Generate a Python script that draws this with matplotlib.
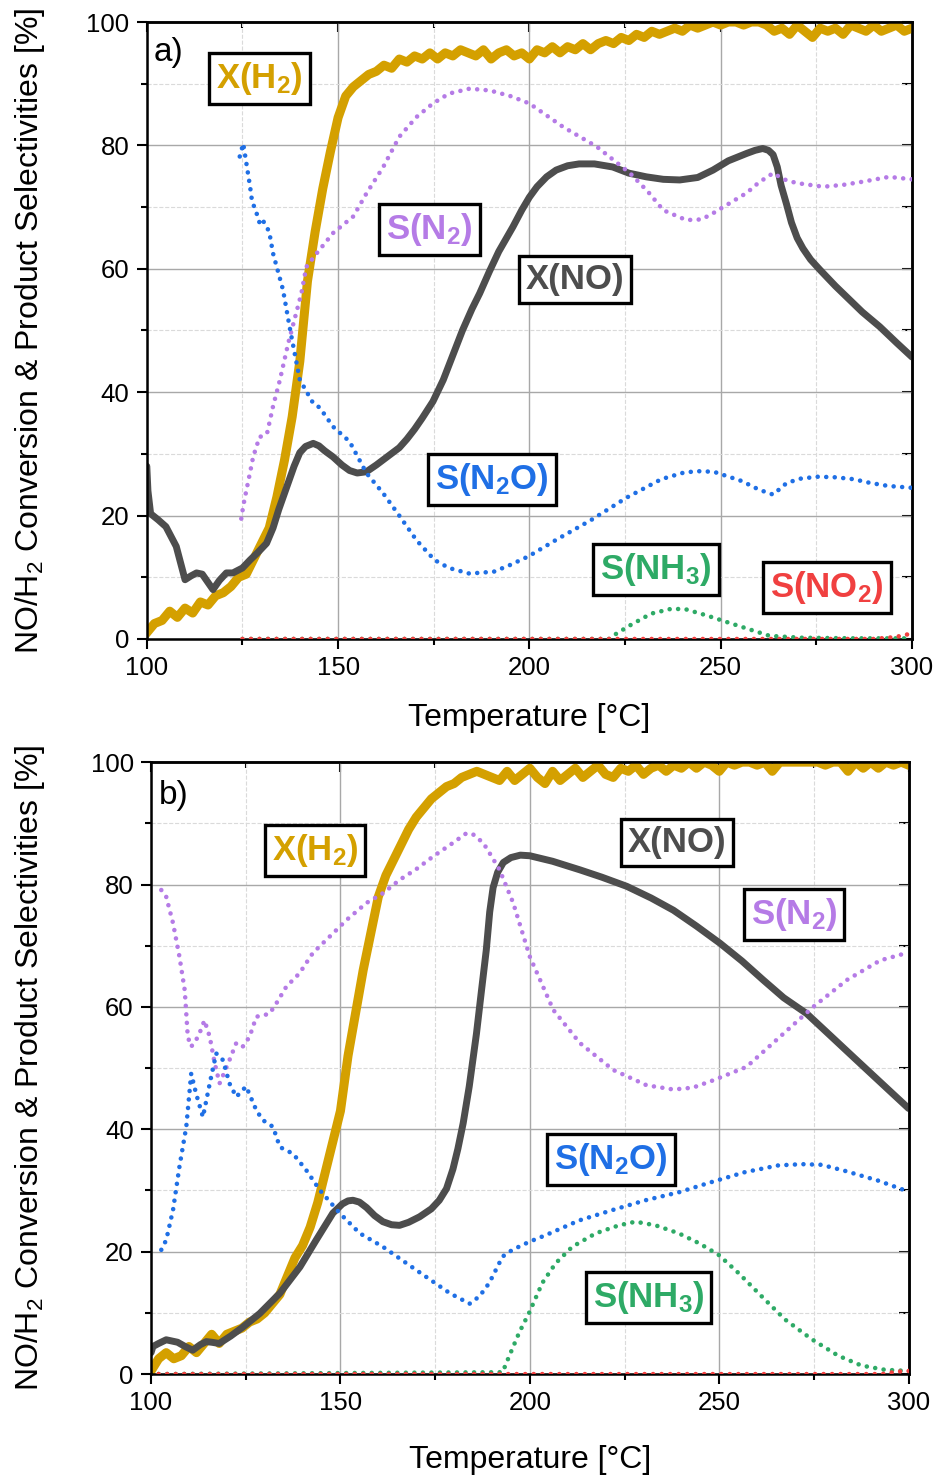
import matplotlib
matplotlib.use("Agg")
import matplotlib.pyplot as plt
from matplotlib.ticker import MultipleLocator

plt.rcParams['font.family'] = ['Liberation Sans', 'DejaVu Sans']
plt.rcParams['mathtext.fontset'] = 'custom'
plt.rcParams['mathtext.rm'] = 'Liberation Sans'
plt.rcParams['mathtext.bf'] = 'Liberation Sans:bold'
plt.rcParams['mathtext.it'] = 'Liberation Sans:italic'

C_H2 = '#D4A000'
C_NO = '#4D4D4D'
C_N2 = '#B57BE6'
C_N2O = '#1F6FE5'
C_NH3 = '#2EAA66'
C_NO2 = '#F04040'

# ---------------- panel a data ----------------
a_h2_T = list(range(100, 301, 2))
a_h2 = [1.0, 2.5, 3.0, 4.5, 3.5, 5.0, 4.2, 6.0, 5.5, 7.0,
        7.5, 8.5, 10.0, 10.5, 13.0, 15.5, 18.0, 23.0, 29.0, 36.0,
        45.0, 58.0, 66.0, 73.0, 79.0, 84.5, 88.0, 89.5, 90.5, 91.5,
        92.0, 93.0, 92.5, 94.0, 93.5, 94.5, 94.0, 95.0, 94.0, 95.0,
        94.5, 95.5, 95.0, 94.5, 95.5, 94.0, 95.0, 95.5, 94.5, 95.0,
        94.0, 95.5, 95.0, 96.0, 95.0, 96.0, 95.5, 96.5, 95.5, 96.5,
        97.0, 96.5, 97.5, 97.0, 98.0, 97.5, 98.5, 98.0, 98.5, 99.0,
        98.5, 99.5, 99.0, 99.5, 100.0, 99.5, 100.0, 100.0, 99.5, 100.0,
        100.0, 99.5, 98.5, 99.0, 98.0, 99.5, 98.5, 97.5, 99.0, 98.5,
        99.0, 98.0, 99.5, 99.0, 98.5, 99.5, 98.5, 99.0, 99.5, 98.5,
        99.0]

a_no_T = [100.0, 100.3, 101, 103, 105, 107.7, 110, 111.5, 113, 114.5,
          117.3, 119, 120.8, 122.5, 125, 127, 129, 131.3, 133, 134.5,
          136.5, 138.5, 140, 141.5, 143.5, 145, 146.5, 148.7, 151, 153,
          155, 157.4, 160, 163, 166, 168, 170, 172, 174.8, 177.5,
          180, 182.5, 185, 187, 189.5, 192, 195.7, 198, 200, 202,
          204.5, 207, 210, 213, 217, 221.8, 226, 230.6, 235, 239.3,
          244, 248, 252, 256.8, 259, 261, 262.5, 263.7, 264.8, 265.8,
          267.2, 268.5, 270, 271.5, 273.5, 276, 280, 283, 287, 291.6,
          296, 300]
a_no = [28, 24, 20.3, 19.3, 18.2, 15, 9.6, 10.2, 10.7, 10.5,
        8, 9.5, 10.7, 10.7, 11.5, 12.8, 14, 15.5, 18, 21,
        24.5, 28, 30.2, 31.2, 31.7, 31.3, 30.5, 29.5, 28.2, 27.3,
        26.9, 27.1, 28.2, 29.6, 31, 32.4, 34, 35.8, 38.5, 42,
        46, 50, 53.5, 56, 59.5, 62.8, 66.8, 69.5, 71.6, 73.3,
        74.9, 76, 76.7, 77, 77, 76.5, 75.5, 74.9, 74.5, 74.4,
        74.8, 76, 77.5, 78.7, 79.2, 79.5, 79.2, 78.5, 76.5, 73.5,
        70.5, 67.5, 65, 63.3, 61.5, 59.8, 57.2, 55.4, 53, 50.6,
        48, 45.7]

a_n2_T = [124.7, 125.2, 126, 127, 127.8, 129.5, 130.3, 131.5, 133, 134.8,
          137, 140.4, 141.7, 144.4, 148.7, 154, 157.4, 161.8, 166, 170.5,
          174.8, 179, 184.4, 189.7, 195, 200, 208.8, 217.6, 226.3, 231,
          235, 241, 245, 248, 252, 256.8, 260, 263.7, 266.5, 269.8,
          276.8, 282, 287, 294, 300]
a_n2 = [19.5, 21.5, 24, 27, 29.5, 32.8, 32.8, 33.5, 37.7, 42,
        48, 56, 60.3, 62.5, 65.8, 68.5, 72.2, 76.5, 81.4, 84.6,
        86.8, 88.4, 89.2, 88.9, 88, 86.8, 83, 79.8, 75.5, 72.5,
        69.5, 67.9, 68, 69, 70.5, 72.3, 74, 75.5, 74.5, 73.9,
        73.3, 73.6, 74.1, 74.9, 74.5]

a_n2o_T = [124.3, 125.2, 125.8, 127, 127.5, 128.7, 129.5, 130.2, 131.3, 132,
           133, 135.6, 137.5, 140, 143.5, 145.2, 148.7, 153, 157.4, 161.8,
           166.1, 170.5, 175.2, 179, 184.3, 190.7, 195, 199.8, 207.1, 216.2,
           225.4, 234.5, 240, 243.6, 248.2, 255.5, 260, 263.7, 267.3, 271,
           275.5, 280, 284.7, 289, 293.8, 300]
a_n2o = [78.2, 80.3, 78, 73.3, 71, 69, 67.4, 68, 66.8, 66,
         62.5, 56.6, 50, 42, 38.2, 37.5, 34.4, 32, 26.9, 23.6,
         19.9, 16, 12.8, 11.5, 10.6, 10.9, 12, 13.4, 16.1, 19.3,
         22.9, 25.9, 26.9, 27.2, 27.1, 25.6, 24.2, 23.4, 25.3, 26,
         26.3, 26.2, 25.9, 25.3, 24.8, 24.5]

a_nh3_T = [125, 220.8, 222.6, 226.3, 231.8, 237.2, 240.9, 246.4, 251.8, 257.3,
           262.8, 271, 285, 300]
a_nh3 = [0, 0, 0.8, 2.2, 4.1, 4.9, 4.8, 3.8, 2.7, 1.6,
         0.5, 0.2, 0.1, 0.1]

a_no2_T = [125, 290, 295.6, 299.3, 300]
a_no2 = [0, 0, 0.3, 0.8, 0.9]

# ---------------- panel b data ----------------
b_h2_T = list(range(100, 301, 2))
b_h2 = [0.5, 2.5, 3.5, 2.5, 3.0, 4.5, 3.5, 5.0, 6.5, 5.0,
        6.5, 7.0, 7.5, 8.5, 9.0, 10.0, 11.5, 13.0, 16.0, 19.0,
        21.0, 24.0, 28.0, 33.0, 38.0, 43.0, 52.0, 59.0, 66.0, 72.0,
        78.0, 81.5, 84.0, 86.5, 89.0, 91.0, 92.5, 94.0, 95.0, 96.0,
        96.5, 97.5, 98.0, 98.5, 98.0, 97.5, 97.0, 98.5, 97.0, 98.0,
        99.0, 97.5, 96.5, 98.5, 97.0, 98.0, 99.0, 97.5, 98.5, 99.5,
        98.0, 97.5, 99.0, 98.5, 99.5, 98.0, 99.0, 99.5, 98.5, 99.5,
        99.0, 100.0, 99.0, 100.0, 99.5, 98.5, 100.0, 99.5, 100.0, 100.0,
        99.5, 100.0, 98.5, 100.0, 100.0, 100.0, 100.0, 100.0, 100.0, 99.5,
        100.0, 100.0, 98.5, 100.0, 99.0, 100.0, 99.0, 100.0, 99.5, 100.0,
        99.5]

b_no_T = [100, 100.5, 102, 104, 107, 109, 111, 113, 114.6, 116,
          118, 121, 124.3, 128.7, 134, 139.3, 143.6, 148, 150.5, 152,
          153.3, 155, 156.9, 159, 161.2, 163.5, 165.6, 168, 170.9, 174,
          176.1, 178, 179.7, 181, 182.4, 184, 185.9, 187.2, 188.5, 189.4,
          190.3, 191.5, 193, 195, 197.5, 200, 206, 213.2, 219, 225.6,
          232, 237.9, 244, 250.2, 256, 261.6, 267, 273.1, 279, 285.4,
          292, 300]
b_no = [3.5, 4.5, 5.0, 5.6, 5.2, 4.5, 3.9, 4.8, 5.3, 5.2,
        5.0, 6.2, 7.7, 9.9, 13.2, 17.5, 21.9, 26.3, 27.8, 28.3,
        28.4, 28.1, 27.2, 25.9, 24.9, 24.4, 24.3, 24.8, 25.7, 27,
        28.4, 30.3, 33.5, 36.8, 41, 47, 55.6, 62.5, 69.3, 75.5,
        79.5, 82, 83.6, 84.4, 84.8, 84.7, 83.8, 82.4, 81.2, 79.7,
        77.8, 75.8, 73.2, 70.4, 67.5, 64.4, 61.5, 58.9, 55.5, 51.8,
        48, 43.4]

b_n2_T = [102.7, 104, 105.8, 107.5, 108.9, 109.7, 110.6, 111.9, 112.8, 114.1,
          115.5, 116.8, 118.1, 118.8, 120.7, 122.5, 124.2, 126, 127.8, 129.5,
          131.3, 133.1, 135.7, 139.2, 142.7, 148, 151.6, 156.9, 161.3, 165.7,
          170, 174.5, 179, 183.3, 185, 187.7, 190, 192, 195.6, 200,
          206.2, 213.2, 222, 230.8, 237.9, 243, 248.4, 257.2, 266, 274.8,
          283.7, 292.5, 300]
b_n2 = [79.1, 78, 73.7, 68.2, 62.7, 55.1, 53.5, 54.6, 55.7, 57.8,
        55.1, 50.8, 47.5, 48.5, 51.3, 54.1, 53.5, 55.1, 58.4, 58.6,
        58.9, 60.6, 63.3, 65.5, 68.8, 72, 74.2, 77, 78.6, 80.8,
        82.5, 84.6, 86.5, 88.4, 88.2, 86.8, 84.5, 82.4, 77, 68.2,
        59.5, 54.1, 49.7, 47.2, 46.5, 46.8, 48, 50.2, 55.1, 60,
        64.4, 67.6, 68.9]

b_n2o_T = [102.7, 104, 105.8, 107.5, 109.3, 110.6, 111.9, 113.7, 115.5, 117.2,
           119, 120.7, 122.5, 125.1, 127.8, 129.5, 132.2, 134, 137.5, 141,
           144.5, 149.8, 155.1, 161.2, 170, 178.9, 184.1, 186.7, 189.3, 192.8,
           195.4, 199.8, 204.2, 213, 221.8, 230.5, 239.3, 248.1, 256.8, 265.6,
           271.8, 277, 283.2, 292, 300]
b_n2o = [20.3, 21.9, 26.8, 33.9, 40.4, 49.1, 45.8, 42, 47.5, 52.4,
         51.3, 47.5, 45.3, 47, 43.1, 41.5, 40.4, 37.1, 36, 33.3,
         30.1, 26.3, 23, 20.8, 17, 13.2, 11.5, 12.7, 14.9, 19.2,
         20.3, 21.6, 22.7, 25.1, 26.8, 28.4, 29.7, 31.4, 33, 34.1,
         34.3, 34.2, 33.2, 31.6, 29.8]

b_nh3_T = [102, 192.8, 194.6, 197.2, 199.8, 203.3, 206.8, 211.2, 217.4, 223.5,
           227.9, 233.2, 239.3, 244.6, 249.8, 255.1, 261.2, 267.4, 274.4, 281.4,
           287.5, 293.7, 300]
b_nh3 = [0, 0.3, 3, 6.8, 10, 14.9, 18.1, 20.8, 23, 24.3,
         24.9, 24.3, 23, 21.4, 19.5, 16.5, 12.7, 8.9, 5.7, 3,
         1.4, 0.7, 0.5]

b_no2_T = [102, 293, 297, 300]
b_no2 = [0, 0, 0.4, 0.5]

# label texts and where they sit (data coords)
a_labels = [(r'X(H$_\mathbf{2}$)', 129.5, 90.8, C_H2),
            (r'S(N$_\mathbf{2}$)', 173.9, 66.3, C_N2),
            ('X(NO)', 211.9, 58.3, C_NO),
            (r'S(N$_\mathbf{2}$O)', 190.2, 25.9, C_N2O),
            (r'S(NH$_\mathbf{3}$)', 233.1, 11.2, C_NH3),
            (r'S(NO$_\mathbf{2}$)', 277.8, 8.3, C_NO2)]
b_labels = [(r'X(H$_\mathbf{2}$)', 143.3, 85.5, C_H2),
            ('X(NO)', 238.9, 86.8, C_NO),
            (r'S(N$_\mathbf{2}$)', 269.7, 75.1, C_N2),
            (r'S(N$_\mathbf{2}$O)', 221.4, 35.0, C_N2O),
            (r'S(NH$_\mathbf{3}$)', 231.3, 12.5, C_NH3)]

DOT = (0, (0.01, 1.85))


def dotted(ax, T, V, color):
    ax.plot(T, V, color=color, lw=3.3, linestyle=DOT,
            dash_capstyle='round', zorder=3)


def style_axis(ax, xlab_y, ylab_x):
    ax.set_xlim(100, 300)
    ax.set_ylim(0, 100)
    ax.xaxis.set_major_locator(MultipleLocator(50))
    ax.xaxis.set_minor_locator(MultipleLocator(25))
    ax.yaxis.set_major_locator(MultipleLocator(20))
    ax.yaxis.set_minor_locator(MultipleLocator(10))
    ax.grid(which='major', color='#A8A8A8', lw=1.0)
    ax.grid(which='minor', color='#DADADA', lw=0.8, linestyle='--')
    ax.set_axisbelow(True)
    for s in ax.spines.values():
        s.set_linewidth(1.8)
    ax.tick_params(which='major', direction='out', length=7.5, width=1.5,
                   labelsize=18.5, pad=5)
    ax.tick_params(which='minor', direction='out', length=4.5, width=1.5)
    sx = ax.secondary_xaxis('top')
    sx.xaxis.set_major_locator(MultipleLocator(50))
    sx.xaxis.set_minor_locator(MultipleLocator(25))
    sx.tick_params(which='major', direction='in', length=7.5, width=1.5, labeltop=False)
    sx.tick_params(which='minor', direction='in', length=4.5, width=1.5)
    sx.spines['top'].set_linewidth(1.8)
    sy = ax.secondary_yaxis('right')
    sy.yaxis.set_major_locator(MultipleLocator(20))
    sy.yaxis.set_minor_locator(MultipleLocator(10))
    sy.tick_params(which='major', direction='in', length=7.5, width=1.5, labelright=False)
    sy.tick_params(which='minor', direction='in', length=7.5, width=1.5)
    sy.spines['right'].set_linewidth(1.8)
    ax.set_xlabel('Temperature [°C]', fontsize=23, va='center')
    ax.xaxis.set_label_coords(0.5, xlab_y)
    ax.set_ylabel(r'NO/H$_2$ Conversion & Product Selectivities [%]',
                  fontsize=23, va='center')
    ax.yaxis.set_label_coords(ylab_x, 0.5)


def put_labels(ax, labels):
    for txt, x, y, c in labels:
        ax.text(x, y, txt, color=c, fontsize=25, fontweight='bold',
                ha='center', va='center', zorder=10,
                bbox=dict(boxstyle='square,pad=0.2', fc='white', ec='black', lw=2.4))


fig = plt.figure(figsize=(9.47, 14.77), dpi=100)
ax1 = fig.add_axes([0.155, 0.5674, 0.808, 0.4177])
ax2 = fig.add_axes([0.1595, 0.0697, 0.800, 0.4143])

# panel a
ax1.plot(a_h2_T, a_h2, color=C_H2, lw=6.5, zorder=2)
ax1.plot(a_no_T, a_no, color=C_NO, lw=5, zorder=2.1, solid_capstyle='round')
dotted(ax1, a_nh3_T, a_nh3, C_NH3)
dotted(ax1, a_no2_T, a_no2, C_NO2)
dotted(ax1, a_n2_T, a_n2, C_N2)
dotted(ax1, a_n2o_T, a_n2o, C_N2O)
style_axis(ax1, -0.128, -0.153)
put_labels(ax1, a_labels)
ax1.text(101.8, 95, 'a)', fontsize=24, ha='left', va='center', zorder=10)

# panel b
ax2.plot(b_h2_T, b_h2, color=C_H2, lw=6.5, zorder=2)
ax2.plot(b_no_T, b_no, color=C_NO, lw=5, zorder=2.1, solid_capstyle='round')
dotted(ax2, b_nh3_T, b_nh3, C_NH3)
dotted(ax2, b_no2_T, b_no2, C_NO2)
dotted(ax2, b_n2_T, b_n2, C_N2)
dotted(ax2, b_n2o_T, b_n2o, C_N2O)
style_axis(ax2, -0.14, -0.16)
put_labels(ax2, b_labels)
ax2.text(102, 94.5, 'b)', fontsize=24, ha='left', va='center', zorder=10)

fig.savefig('out.png', dpi=100)
